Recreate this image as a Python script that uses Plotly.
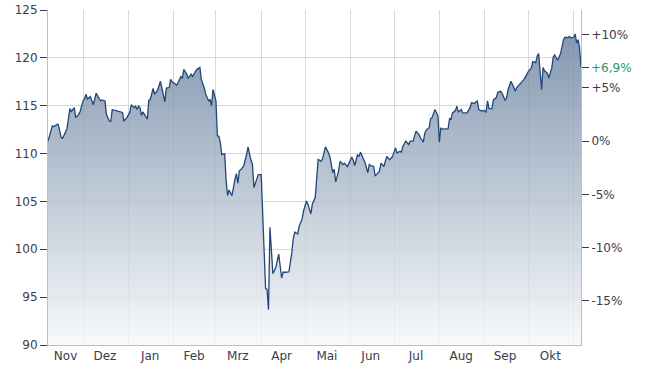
import pandas as pd
import plotly.graph_objects as go

start_date = "2019-11-07"
# trading-day offsets (days since start_date) and closing values
day_offsets = [
    0, 3, 4, 6, 7, 9, 10, 11, 13, 15, 16, 18, 19, 21, 22, 24, 25, 26, 27, 29, 30, 31, 33, 35, 36, 37, 39, 40,
    42, 43, 44, 46, 49, 51, 52, 54, 56, 57, 59, 60, 61, 62,
    63, 64, 65, 67, 68, 69, 70, 72, 73, 75, 76, 77, 78, 80, 81, 83, 84, 85, 87, 88, 89, 91, 92, 93, 95, 96,
    98, 99, 101, 102, 104, 105, 107, 108, 110, 111, 112, 113, 115, 116, 117,
    118, 119, 121, 122, 123, 124, 126, 128, 129, 130, 131, 132, 134, 136, 137, 139, 140, 141, 143, 144, 146,
    147, 149, 150, 151, 152, 154, 156, 157, 158, 160, 161, 163, 165, 167, 168, 169, 171, 172, 174, 175, 177,
    178, 180, 181, 183,
    185, 187, 188, 190, 192, 193, 195, 196, 197, 199, 200, 202, 203, 205, 206, 208, 209, 210, 212, 213, 214,
    216, 217, 219, 220, 221, 223, 224, 225, 227, 228, 230, 231, 232, 234, 235, 236, 238, 239, 241, 242, 243,
    245, 247, 248, 250, 252, 254, 255, 257, 258, 259, 261, 262, 263, 265, 267, 268, 269, 270, 272, 274, 275,
    276, 277, 279, 280, 281, 283, 284, 286, 287, 289, 290, 292, 293, 294, 295, 297, 298, 300, 301, 302, 304,
    305, 307, 308, 310, 311, 313, 314, 315, 317, 318, 320, 321, 323, 324, 326, 328, 329, 331, 332, 334, 335,
    336, 338, 339, 340, 342, 343, 345, 346, 347, 349, 351, 352, 353, 354, 356, 357, 358, 360, 361, 362, 363,
    364, 365,
]
values = [
    111.3, 112.9, 112.8, 113.05, 113.05, 111.7, 111.6, 111.9, 112.6, 114.7, 114.4, 114.8, 113.75, 114.1, 114.4,
    115.5, 115.7, 116.2, 115.7, 115.95, 115.6, 115.1, 116.3, 115.85, 115.5, 115.6, 115.5, 114.1,
    113.4, 113.35, 114.6, 114.5, 114.4, 114.3, 113.4, 113.75, 114.3, 115.1, 114.8, 114.95, 114.6, 114.95,
    114.8, 114.0, 114.35, 113.9, 113.6, 115.55, 115.65, 116.8, 116.2, 116.6, 117.2, 117.55, 116.85, 115.4,
    116.85, 116.9, 117.75, 117.5, 117.3, 117.15, 117.4, 118.05, 117.85, 118.8, 118.3, 117.85,
    118.3, 118.05, 118.6, 118.8, 119.0, 117.75, 116.85, 116.2, 115.5, 115.65, 115.0, 116.7, 115.5, 111.85, 111.8,
    111.15, 109.9, 110.0, 107.15, 105.6, 106.2, 105.6, 107.3, 107.9, 106.9, 108.2, 108.3, 108.7, 109.9, 110.7,
    109.3, 108.9, 106.45, 107.4, 107.8, 107.8,
    103.5, 95.9, 95.8, 93.7, 102.3, 97.45, 98.1, 98.8, 99.5, 97.0, 97.6, 97.6, 97.65, 99.7, 101.15, 101.8,
    101.6, 102.4, 103.15, 104.0, 105.05,
    104.7, 103.7, 104.7, 105.4,
    109.4, 109.2, 109.45, 110.7, 110.1, 109.7, 108.0, 108.35, 107.05, 108.2, 109.2, 108.85, 109.0, 108.65,
    108.95, 109.65, 109.3, 108.75, 109.9, 109.7, 110.15,
    109.45, 109.1, 108.0, 108.85, 108.75, 108.65, 107.7, 107.8, 108.15, 109.0, 108.65, 109.35, 109.7, 109.35,
    109.5, 109.7, 110.6, 110.05, 110.25, 110.15, 110.75,
    111.3, 110.95, 111.3, 111.3, 112.35, 112.0, 111.65, 111.2, 112.1, 112.45, 112.7, 113.65, 113.75, 114.6,
    113.95, 111.2, 112.7, 112.55, 112.55, 112.6, 113.65,
    113.6, 114.25, 114.5, 114.95, 114.35, 114.6, 114.25, 114.25, 114.25, 114.8, 115.3, 115.25, 115.4, 115.5,
    114.6, 114.45, 114.5, 114.35, 115.5, 114.7, 114.7,
    115.6, 115.85, 116.4, 116.5, 116.3, 115.55, 115.8, 116.65, 117.55, 117.25, 116.55, 116.9, 117.2, 117.35,
    117.75, 118.3, 118.6, 118.95, 119.6, 119.5, 120.2,
    120.45, 116.7, 119.0, 118.65, 118.4, 117.9, 118.95, 120.1, 120.3, 119.75, 120.45, 121.05, 121.9, 122.15,
    122.1, 122.25, 122.1, 122.15, 122.5, 121.55, 121.9,
    121.05, 119.0,
]

base_value = values[0]
last_change = 6.9

month_label_dates = ["2019-11-19", "2019-12-16", "2020-01-16", "2020-02-15", "2020-03-16", "2020-04-15",
                     "2020-05-16", "2020-06-15", "2020-07-16", "2020-08-16", "2020-09-15", "2020-10-16"]
month_labels = ["Nov", "Dez", "Jan", "Feb", "Mrz", "Apr", "Mai", "Jun", "Jul", "Aug", "Sep", "Okt"]

left_ticks = [90, 95, 100, 105, 110, 115, 120, 125]
pct_ticks = [-15, -10, -5, 0, 5, 10]
pct_labels = ["-15%", "-10%", "-5%", "0%", "+5%", "+10%"]

y_min, y_max = 90, 125

dates = pd.Timestamp(start_date) + pd.to_timedelta(day_offsets, unit="D")

TEXT = "#3b3b4b"
GRID = "#d8d9e0"
AXIS = "#b9bec9"
FONT = "DejaVu Sans"

fig = go.Figure()
fig.add_trace(go.Scatter(
    x=dates, y=values, mode="lines",
    line=dict(color="#22477a", width=1.3),
    fill="tozeroy",
    fillgradient=dict(type="vertical", start=y_min, stop=y_max,
                      colorscale=[[0, "rgba(246,248,250,0.8)"], [1, "rgba(91,117,149,0.8)"]]),
    hoverinfo="skip", showlegend=False,
))
# invisible trace to activate right axis
fig.add_trace(go.Scatter(x=[dates[0]], y=[0], yaxis="y2", mode="markers",
                         marker=dict(opacity=0), hoverinfo="skip", showlegend=False))

pct_min = (y_min / base_value - 1) * 100
pct_max = (y_max / base_value - 1) * 100

fig.update_layout(
    width=650, height=370,
    margin=dict(l=48, r=69, t=10, b=25),
    plot_bgcolor="white", paper_bgcolor="white",
    font=dict(family=FONT, size=12, color=TEXT),
    xaxis=dict(
        type="date", range=[dates[0], dates[-1]], automargin=False,
        tickvals=pd.to_datetime(month_label_dates), ticktext=month_labels,
        showgrid=False, ticks="", showline=True, linecolor=AXIS, linewidth=1,
        minor=dict(dtick="M1", tick0="2019-12-01", showgrid=True, gridcolor=GRID, gridwidth=1, ticks=""),
        tickfont=dict(size=12, color=TEXT), fixedrange=True,
    ),
    yaxis=dict(
        range=[y_min, y_max], tickvals=left_ticks, automargin=False,
        showgrid=True, gridcolor=GRID, gridwidth=1,
        ticks="outside", ticklen=7, tickcolor=TEXT,
        showline=True, linecolor=AXIS, zeroline=False,
        tickfont=dict(size=12, color=TEXT),
    ),
    yaxis2=dict(
        overlaying="y", side="right", range=[pct_min, pct_max], automargin=False,
        tickvals=pct_ticks + [last_change], ticktext=pct_labels + [""],
        showgrid=False, ticks="outside", ticklen=7, tickcolor=TEXT,
        showline=True, linecolor=AXIS, zeroline=False,
        tickfont=dict(size=12, color=TEXT),
    ),
    annotations=[dict(
        xref="paper", yref="y2", x=1, y=last_change, xanchor="left", yanchor="middle",
        xshift=8, text="+" + f"{last_change:.1f}".replace(".", ",") + "%", showarrow=False,
        font=dict(family=FONT, size=12, color="#2a9a5e"),
    )],
)

fig.write_html("out.html")
